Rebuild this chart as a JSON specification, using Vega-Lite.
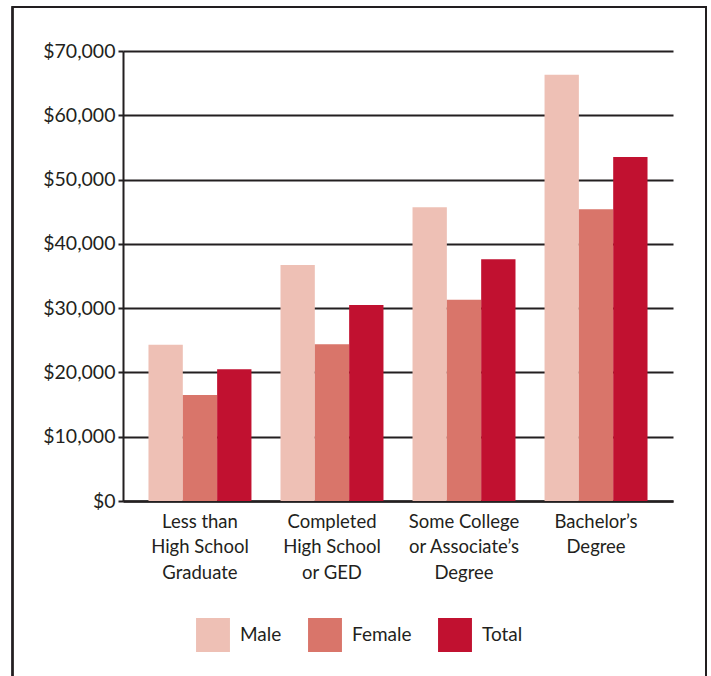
{
  "$schema": "https://vega.github.io/schema/vega-lite/v6.json",
  "width": 550,
  "height": 450,
  "autosize": {"type": "none"},
  "padding": {"left": 123, "top": 51, "right": 38, "bottom": 175},
  "background": "white",
  "config": {
    "view": {"stroke": null},
    "font": "Lato",
    "axis": {"labelFont": "Lato", "labelColor": "#231f20"},
    "legend": {"labelFont": "Lato", "labelColor": "#231f20"}
  },
  "data": {
    "values": [
      {"education": "Less than|High School|Graduate", "group": "Male", "earnings": 24300},
      {"education": "Less than|High School|Graduate", "group": "Female", "earnings": 16500},
      {"education": "Less than|High School|Graduate", "group": "Total", "earnings": 20500},
      {"education": "Completed|High School|or GED", "group": "Male", "earnings": 36700},
      {"education": "Completed|High School|or GED", "group": "Female", "earnings": 24400},
      {"education": "Completed|High School|or GED", "group": "Total", "earnings": 30500},
      {"education": "Some College|or Associate’s|Degree", "group": "Male", "earnings": 45700},
      {"education": "Some College|or Associate’s|Degree", "group": "Female", "earnings": 31300},
      {"education": "Some College|or Associate’s|Degree", "group": "Total", "earnings": 37600},
      {"education": "Bachelor’s|Degree", "group": "Male", "earnings": 66300},
      {"education": "Bachelor’s|Degree", "group": "Female", "earnings": 45400},
      {"education": "Bachelor’s|Degree", "group": "Total", "earnings": 53500}
    ]
  },
  "layer": [
    {
      "mark": {"type": "bar", "strokeWidth": 0},
      "encoding": {
        "x": {
          "field": "education",
          "type": "nominal",
          "sort": null,
          "scale": {"paddingInner": 0.22, "paddingOuter": 0.193},
          "axis": {
            "title": null,
            "labelAngle": 0,
            "labelExpr": "split(datum.label, '|')",
            "labelFontSize": 18.5,
            "labelLineHeight": 25.5,
            "labelPadding": 11,
            "labelBaseline": "top",
            "ticks": false,
            "domainColor": "#231f20",
            "domainWidth": 2.5,
            "grid": false
          }
        },
        "xOffset": {
          "field": "group",
          "type": "nominal",
          "sort": ["Male", "Female", "Total"],
          "scale": {"paddingInner": 0, "paddingOuter": 0}
        },
        "y": {
          "field": "earnings",
          "type": "quantitative",
          "scale": {"domain": [0, 70000], "nice": false},
          "axis": {
            "title": null,
            "values": [0, 10000, 20000, 30000, 40000, 50000, 60000, 70000],
            "format": "$,.0f",
            "labelFontSize": 19.5,
            "labelPadding": 3,
            "tickSize": 5,
            "tickWidth": 2,
            "tickColor": "#231f20",
            "domainColor": "#231f20",
            "domainWidth": 2,
            "grid": true,
            "gridColor": "#231f20",
            "gridWidth": 2,
            "gridOpacity": 1
          }
        },
        "color": {
          "field": "group",
          "type": "nominal",
          "sort": ["Male", "Female", "Total"],
          "scale": {
            "domain": ["Male", "Female", "Total"],
            "range": ["#EEC0B5", "#D9756A", "#C11130"]
          },
          "legend": {
            "title": null,
            "orient": "none",
            "direction": "horizontal",
            "legendX": 73,
            "legendY": 567,
            "symbolType": "square",
            "symbolSize": 1150,
            "symbolStrokeWidth": 0,
            "labelFontSize": 19,
            "labelOffset": 10,
            "columnPadding": 26,
            "padding": 0
          }
        }
      }
    },
    {
      "mark": {"type": "rect", "fill": null, "filled": false, "stroke": "#231f20", "strokeWidth": 1.3, "clip": false},
      "encoding": {
        "x": {"datum": -110.5, "type": "quantitative", "scale": {"domain": [0, 550], "nice": false, "zero": false}, "axis": null},
        "x2": {"datum": 583},
        "y": {"datum": 76844, "type": "quantitative"},
        "y2": {"datum": -29400}
      }
    }
  ],
  "resolve": {"scale": {"x": "independent"}}
}
